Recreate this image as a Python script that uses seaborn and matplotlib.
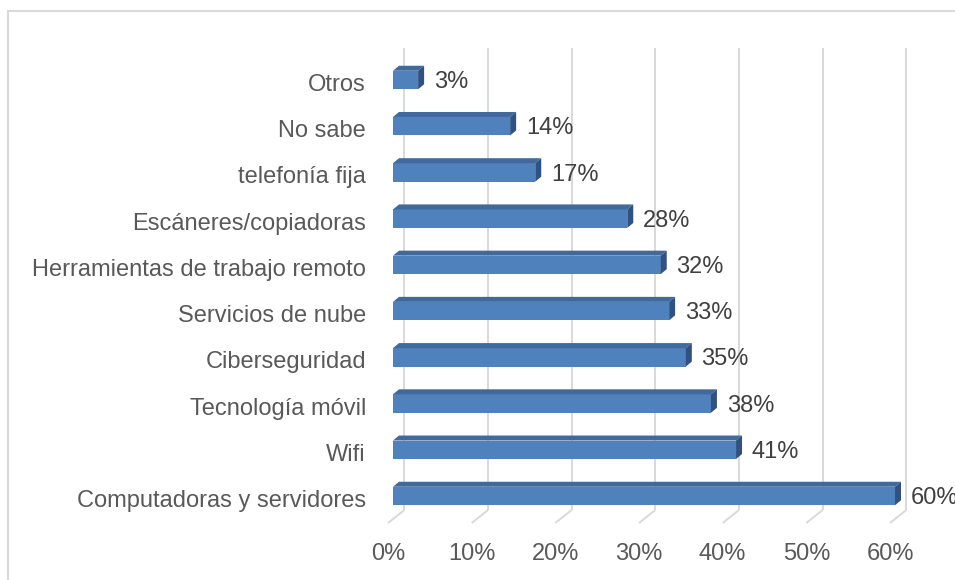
import matplotlib
matplotlib.use("Agg")
import matplotlib.pyplot as plt
from matplotlib.patches import Polygon, Rectangle
from matplotlib.transforms import ScaledTranslation
import seaborn as sns
import pandas as pd

# Data
categories = [
    "Otros",
    "No sabe",
    "telefonía fija",
    "Escáneres/copiadoras",
    "Herramientas de trabajo remoto",
    "Servicios de nube",
    "Ciberseguridad",
    "Tecnología móvil",
    "Wifi",
    "Computadoras y servidores",
]
values = [3, 14, 17, 28, 32, 33, 35, 38, 41, 60]
tick_values = [0, 10, 20, 30, 40, 50, 60]
tick_labels = [f"{v}%" for v in tick_values]

# Style
sns.set_theme(style="white")
plt.rcParams["font.family"] = ["Liberation Sans", "DejaVu Sans"]

FRONT = "#4f81bd"
TOP = "#42699b"
SIDE = "#2f5282"
GRID = "#d9d9d9"
TEXT = "#595959"
LABEL = "#404040"
FS = 17

W, H = 955, 580
fig = plt.figure(figsize=(W / 100, H / 100), dpi=100)
fig.patch.set_facecolor("white")

# Axes placed so the bar front plane maps 0..60 onto the plot width
left_px, right_px = 393, 895
top_px, bottom_px = 52, 519
ax = fig.add_axes([left_px / W, 1 - bottom_px / H,
                   (right_px - left_px) / W, (bottom_px - top_px) / H])

df = pd.DataFrame({"categoria": categories, "valor": values})
sns.barplot(data=df, x="valor", y="categoria", orient="h", color=FRONT,
            saturation=1, width=0.4, ax=ax, zorder=3, linewidth=0)

ax.set_xlim(0, 60)
row_px = (496 - 80) / 9
y_floor = 9 + (bottom_px - 496) / row_px
y_top = (top_px - 80) / row_px
ax.set_ylim(y_floor, y_top)

px_x = 60 / (right_px - left_px)   # data units per pixel along x
px_y = 1 / row_px                  # data units per pixel along y (downwards)

# Depth offsets
bar_dx, bar_dy = 6 * px_x, -5 * px_y          # bar top/side faces
back_dx, back_dy = 11.3 * px_x, -9 * px_y     # back wall of the plot
floor_dx, floor_dy = -5 * px_x, 4 * px_y      # front edge of the floor

# Gridlines on the back wall plus their floor segments
for v in tick_values:
    ax.plot([v + back_dx, v + back_dx], [-0.5 + back_dy, y_floor + back_dy],
            color=GRID, lw=1.4, zorder=1, clip_on=False, solid_capstyle="butt")
    ax.plot([v + back_dx, v + floor_dx], [y_floor + back_dy, y_floor + floor_dy],
            color=GRID, lw=1.4, zorder=1, clip_on=False, solid_capstyle="butt")

# Top and side faces of each bar
for patch in ax.patches:
    x0 = patch.get_x()
    x1 = x0 + patch.get_width()
    yt = patch.get_y()
    yb = yt + patch.get_height()
    top = Polygon([(x0, yt), (x1, yt), (x1 + bar_dx, yt + bar_dy),
                   (x0 + bar_dx, yt + bar_dy)], closed=True,
                  facecolor=TOP, edgecolor="none", zorder=3, clip_on=False)
    side = Polygon([(x1, yt), (x1 + bar_dx, yt + bar_dy),
                    (x1 + bar_dx, yb + bar_dy), (x1, yb)], closed=True,
                   facecolor=SIDE, edgecolor="none", zorder=3, clip_on=False)
    ax.add_patch(top)
    ax.add_patch(side)

# Value labels
for i, v in enumerate(values):
    ax.annotate(f"{v}%", xy=(v + bar_dx, i), xytext=(7, -1.5),
                textcoords="offset points", ha="left", va="center",
                fontsize=FS, color=LABEL, annotation_clip=False)

# Axis ticks and labels
ax.set_xticks(tick_values)
ax.set_xticklabels(tick_labels, fontsize=FS, color=TEXT)
ax.set_yticks(range(len(categories)))
ax.set_yticklabels(categories, fontsize=FS, color=TEXT)
ax.tick_params(axis="x", length=0, pad=17.5)
ax.tick_params(axis="y", length=0, pad=19.5)
for lab in ax.get_xticklabels():
    lab.set_transform(lab.get_transform() + ScaledTranslation(-5 / 100, 0, fig.dpi_scale_trans))
for lab in ax.get_yticklabels():
    lab.set_transform(lab.get_transform() + ScaledTranslation(0, -2.5 / 100, fig.dpi_scale_trans))
ax.set_xlabel("")
ax.set_ylabel("")
for s in ax.spines.values():
    s.set_visible(False)
ax.set_facecolor("none")
ax.grid(False)

# Chart area border
fig.patches.append(Rectangle((7.5 / W, -0.1), 1.2, 1 - 10.5 / H + 0.1,
                             transform=fig.transFigure, fill=False,
                             edgecolor=GRID, lw=1.5, zorder=0))

fig.savefig("out.png", dpi=100)
